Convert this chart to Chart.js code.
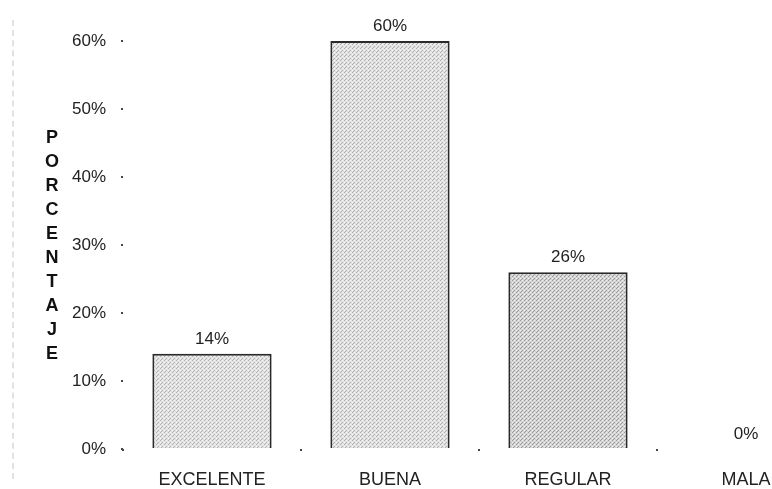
<!DOCTYPE html>
<html lang="es">
  <head>
    <meta charset="UTF-8" />
    <script src="https://cdn.jsdelivr.net/npm/chart.js@4.4.1/dist/chart.umd.min.js"></script>
    <title>Porcentaje por calificación</title>
    <style>
      body { margin: 0; background: #fff; overflow: hidden; }
      #wrap { position: relative; width: 772px; height: 489px; overflow: hidden; }
      #edge { position: absolute; left: 12px; top: 20px; bottom: 10px; border-left: 2px dashed #e2e2e2; }
    </style>
  </head>
  <body>
    <div id="wrap">
      <div id="edge"></div>
      <canvas id="myChart" width="840" height="489"></canvas>
    </div>
  </body>
  <script>
    var categories = ["EXCELENTE", "BUENA", "REGULAR", "MALA"];
    var percentages = [14, 60, 26, 0];
    var yTicks = [0, 10, 20, 30, 40, 50, 60];
    var axisTitle = "PORCENTAJE";

    var fontFamily = "'Liberation Sans', Arial, sans-serif";

    // stippled grey fill for the bars
    function stipple(base, dot) {
      var c = document.createElement("canvas");
      c.width = 4;
      c.height = 4;
      var g = c.getContext("2d");
      g.fillStyle = base;
      g.fillRect(0, 0, 4, 4);
      g.fillStyle = dot;
      g.fillRect(0, 0, 1, 1);
      g.fillRect(2, 2, 1, 1);
      g.fillRect(1, 3, 1, 1);
      g.fillStyle = "rgba(255,255,255,0.7)";
      g.fillRect(2, 0, 1, 1);
      g.fillRect(0, 2, 1, 1);
      return g.createPattern(c, "repeat");
    }
    var fills = [
      stipple("#e2e2e2", "#b0b0b0"),
      stipple("#e2e2e2", "#adadad"),
      stipple("#d4d4d4", "#9a9a9a"),
      stipple("#dcdcdc", "#a8a8a8"),
    ];

    var valueLabels = {
      id: "valueLabels",
      afterDatasetsDraw(chart) {
        var ctx = chart.ctx;
        var meta = chart.getDatasetMeta(0);
        ctx.save();
        ctx.font = "17px " + fontFamily;
        ctx.fillStyle = "#222";
        ctx.textAlign = "center";
        ctx.textBaseline = "alphabetic";
        meta.data.forEach(function (bar, i) {
          ctx.fillText(percentages[i] + "%", bar.x, bar.y - 10);
        });
        ctx.restore();
      },
    };

    // vertical title written one letter per line
    var stackedTitle = {
      id: "stackedTitle",
      afterDraw(chart) {
        var ctx = chart.ctx;
        ctx.save();
        ctx.font = "bold 18px " + fontFamily;
        ctx.fillStyle = "#111";
        ctx.textAlign = "center";
        ctx.textBaseline = "middle";
        for (var i = 0; i < axisTitle.length; i++) {
          ctx.fillText(axisTitle[i], 52, 138 + i * 24);
        }
        ctx.restore();
      },
    };

    new Chart("myChart", {
      type: "bar",
      data: {
        labels: categories,
        datasets: [
          {
            data: percentages,
            backgroundColor: fills,
            borderColor: "#2a2a2a",
            borderWidth: 2,
            barPercentage: 0.67,
            categoryPercentage: 1,
          },
        ],
      },
      options: {
        responsive: false,
        animation: false,
        layout: { padding: { top: 41, right: 5, left: 0, bottom: 0 } },
        plugins: { legend: { display: false }, tooltip: { enabled: false } },
        scales: {
          x: {
            grid: { display: true, drawOnChartArea: false, tickLength: 2, color: "#444", lineWidth: 2 },
            border: { display: false },
            ticks: {
              padding: 18,
              color: "#222",
              font: { family: fontFamily, size: 18 },
            },
            afterFit(axis) { axis.height = 40; },
          },
          y: {
            min: 0,
            max: 60,
            afterBuildTicks(axis) {
              axis.ticks = yTicks.map(function (v) { return { value: v }; });
            },
            grid: { display: true, drawOnChartArea: false, tickLength: 2, color: "#444", lineWidth: 2 },
            border: { display: false },
            ticks: {
              padding: 15,
              color: "#222",
              font: { family: fontFamily, size: 17 },
              callback: function (v) { return v + "%"; },
            },
            afterFit(axis) { axis.width = 123; },
          },
        },
      },
      plugins: [valueLabels, stackedTitle],
    });
  </script>
</html>
